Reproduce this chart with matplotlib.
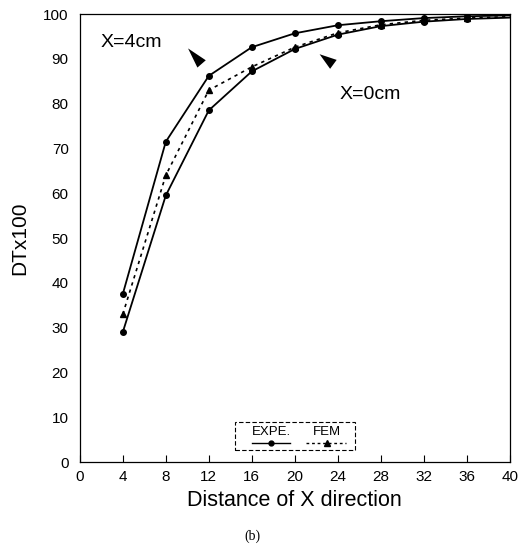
import matplotlib
matplotlib.use('Agg')
import matplotlib.pyplot as plt
import numpy as np

plt.rcParams['font.family'] = ['Liberation Sans', 'DejaVu Sans']

# distance of X direction
dist = [4, 8, 12, 16, 20, 24, 28, 32, 36, 40]
# experiment, X=4cm and X=0cm
expe_x4 = [37.5, 71.5, 86.2, 92.6, 95.7, 97.5, 98.4, 99.1, 99.5, 99.7]
expe_x0 = [29.0, 59.5, 78.5, 87.2, 92.2, 95.4, 97.3, 98.3, 98.9, 99.2]
# finite element method
fem = [33.0, 64.0, 83.0, 88.2, 92.6, 95.8, 97.6, 98.6, 99.1, 99.4]

xticks = np.arange(0, 41, 4)
yticks = np.arange(0, 101, 10)

fig = plt.figure(figsize=(5.25, 5.51), dpi=100)
ax = fig.add_axes([0.152, 0.1615, 0.819, 0.813])

mk = slice(0, 9)
ax.plot(dist, expe_x4, '-', color='black', lw=1.3, marker='o', ms=4, markevery=mk)
ax.plot(dist, expe_x0, '-', color='black', lw=1.3, marker='o', ms=4, markevery=mk)
ax.plot(dist, fem, linestyle=(0, (2, 2.5)), color='black', lw=1.2,
        marker='^', ms=4.5, markevery=mk)

ax.set_xlim(0, 40)
ax.set_ylim(0, 100)
ax.set_xticks(xticks)
ax.set_yticks(yticks)
ax.tick_params(axis='x', direction='in', length=5, labelsize=11, pad=6)
ax.tick_params(axis='y', direction='in', length=0, labelsize=11, pad=8)
for s in ax.spines.values():
    s.set_linewidth(0.9)

ax.set_xlabel('Distance of X direction', fontsize=15.5, labelpad=4)
ax.set_ylabel('DTx100', fontsize=15, labelpad=10)

# curve labels with wedge pointers
ax.text(1.9, 93.7, 'X=4cm', fontsize=14, va='center', ha='left')
ax.annotate('', xy=(9.9, 92.8), xytext=(11.5, 88.4),
            arrowprops=dict(arrowstyle='wedge,tail_width=0.8', color='black', lw=0))
ax.text(24.2, 82, 'X=0cm', fontsize=14, va='center', ha='left')
ax.annotate('', xy=(22.1, 91.4), xytext=(23.8, 88.4),
            arrowprops=dict(arrowstyle='wedge,tail_width=0.8', color='black', lw=0))

# legend box
tr = ax.transAxes
ax.add_patch(plt.Rectangle((0.36, 0.027), 0.28, 0.062, transform=tr,
                           fill=False, lw=0.8, ls=(0, (4, 2)), color='black'))
ax.text(0.445, 0.068, 'EXPE.', transform=tr, fontsize=9.5, ha='center', va='center')
ax.text(0.575, 0.068, 'FEM', transform=tr, fontsize=9.5, ha='center', va='center')
ax.plot([0.40, 0.49], [0.042, 0.042], '-', color='black', lw=1.0, transform=tr)
ax.plot([0.445], [0.042], 'o', color='black', ms=3.5, transform=tr)
ax.plot([0.525, 0.62], [0.042, 0.042], linestyle=(0, (2, 2)), color='black', lw=1.0, transform=tr)
ax.plot([0.575], [0.042], '^', color='black', ms=4, transform=tr)

fig.text(0.48, 0.02, '(b)', fontsize=10, family='Liberation Serif', ha='center')

fig.savefig('out.png', dpi=100)
